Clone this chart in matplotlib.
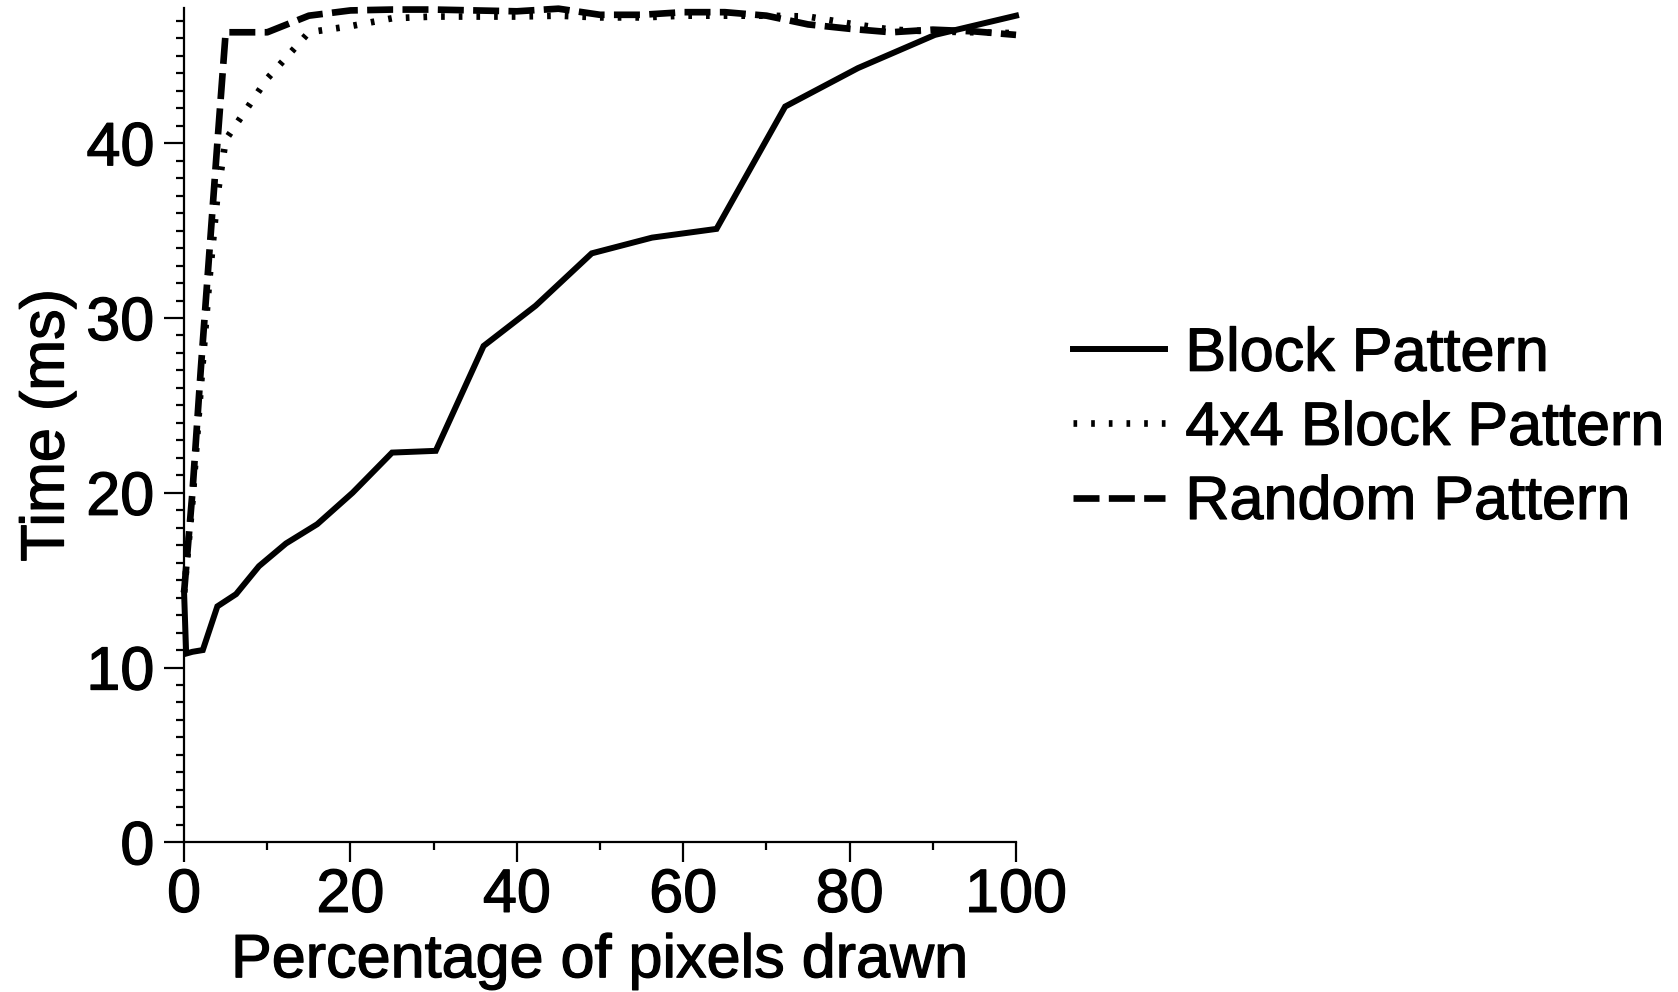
import matplotlib
matplotlib.use("Agg")
import matplotlib.pyplot as plt
import matplotlib.patheffects as pe
from matplotlib.ticker import MultipleLocator

# Data
x_block = [0, 0.25, 1, 2.25, 4, 6.25, 9, 12.25, 16, 20.25, 25, 30.25, 36, 42.25,
           49, 56.25, 64, 72.25, 81, 90.25, 100]
block = [14.3, 10.8, 10.9, 11.0, 13.5, 14.2, 15.8, 17.1, 18.2, 20.0, 22.3, 22.4,
         28.4, 30.7, 33.7, 34.6, 35.1, 42.1, 44.3, 46.2, 47.3]

x_fast = [0, 1, 2, 3, 4, 5, 10, 15, 20, 25, 30, 35, 40, 45, 50, 55, 60, 65, 70,
          75, 80, 85, 90, 95, 100]
block4x4 = [14.3, 19.5, 26.0, 32.0, 37.0, 40.2, 43.7, 46.35, 46.7, 47.15, 47.25,
            47.25, 47.25, 47.3, 47.2, 47.2, 47.3, 47.3, 47.3, 47.25, 46.85, 46.5,
            46.4, 46.35, 46.3]
random_pat = [14.3, 20.0, 27.0, 33.5, 40.0, 46.35, 46.35, 47.3, 47.6, 47.65,
              47.65, 47.6, 47.55, 47.7, 47.35, 47.35, 47.5, 47.5, 47.3, 46.8,
              46.55, 46.35, 46.5, 46.4, 46.2]

labels = ["Block Pattern", "4x4 Block Pattern", "Random Pattern"]
xlabel = "Percentage of pixels drawn"
ylabel = "Time (ms)"

plt.rcParams['font.family'] = ['Liberation Sans', 'DejaVu Sans']
FS = 44
bold_fx = [pe.withStroke(linewidth=0.9, foreground='black')]

fig = plt.figure(figsize=(16.78, 9.92), dpi=100)
ax = fig.add_axes([0.1097, 0.1509, 0.4958, 0.8407])

l1, = ax.plot(x_block, block, color='black', lw=4.3, solid_joinstyle='miter',
              clip_on=False, label=labels[0])
l2, = ax.plot(x_fast, block4x4, color='black', lw=4.8, linestyle=(0, (0.55, 2.1)),
              clip_on=False, label=labels[1])
l3, = ax.plot(x_fast, random_pat, color='black', lw=4.8, linestyle=(0, (3.9, 1.4)),
              clip_on=False, label=labels[2])

ax.set_xlim(0, 100)
ax.set_ylim(0, 47.72)
ax.xaxis.set_major_locator(MultipleLocator(20))
ax.xaxis.set_minor_locator(MultipleLocator(10))
ax.yaxis.set_major_locator(MultipleLocator(10))
ax.yaxis.set_minor_locator(MultipleLocator(1))

for s in ['top', 'right']:
    ax.spines[s].set_visible(False)
for s in ['left', 'bottom']:
    ax.spines[s].set_linewidth(1.6)

ax.tick_params(which='major', length=14.4, width=1.6, labelsize=FS)
ax.tick_params(which='minor', length=6.0, width=1.6)
ax.tick_params(axis='y', which='major', pad=7)
ax.tick_params(axis='x', which='major', pad=4)

ax.set_xlabel(xlabel, fontsize=FS, labelpad=6)
ax.set_ylabel(ylabel, fontsize=FS, labelpad=7)

for t in ax.get_xticklabels() + ax.get_yticklabels():
    t.set_path_effects(bold_fx)
ax.xaxis.label.set_path_effects(bold_fx)
ax.yaxis.label.set_path_effects(bold_fx)

leg = fig.legend(handles=[l1, l2, l3], labels=labels, loc='center left',
                 bbox_to_anchor=(0.6394, 0.5672), frameon=False, fontsize=FS,
                 handlelength=1.5, handletextpad=0.34, labelspacing=0.28,
                 borderpad=0, borderaxespad=0)
for t in leg.get_texts():
    t.set_path_effects(bold_fx)

fig.savefig("out.png", dpi=100)
